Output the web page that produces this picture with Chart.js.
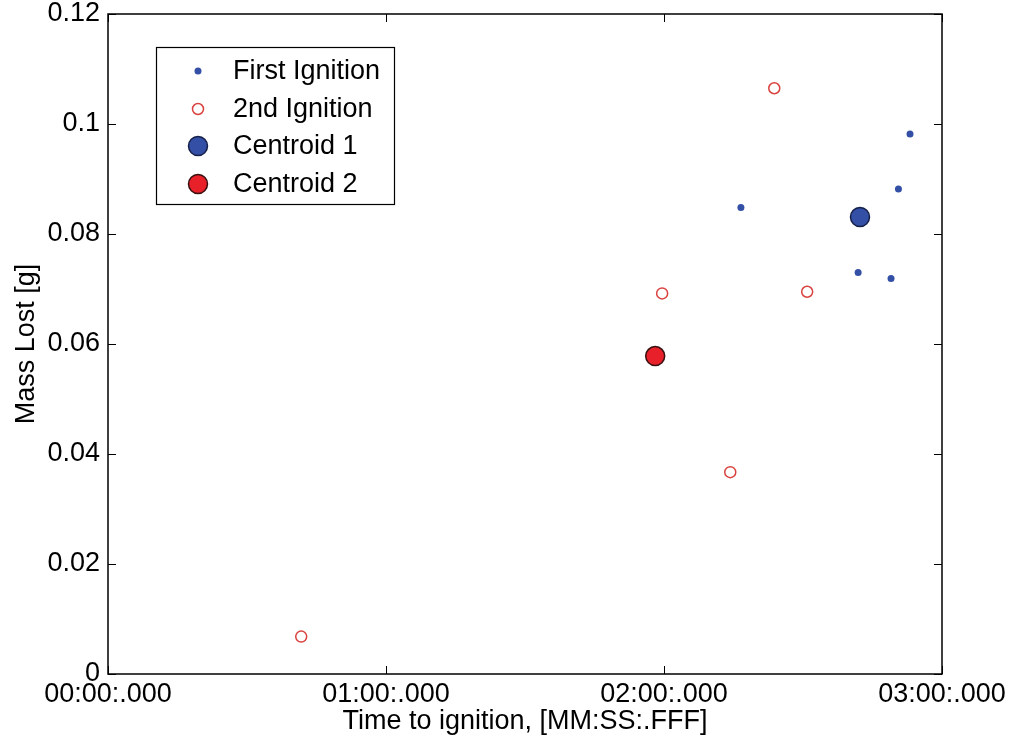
<!DOCTYPE html>
<html>
<head>
<meta charset="utf-8">
<script src="https://cdn.jsdelivr.net/npm/chart.js@4.4.1/dist/chart.umd.min.js"></script>
<style>
html,body{margin:0;padding:0;background:#fff;}
#wrap{width:1011px;height:740px;position:relative;}
</style>
</head>
<body>
<div id="wrap"><canvas id="c" width="1011" height="740"></canvas></div>
<script>
// Data (x in seconds, y in grams)
const firstIgnitionX = [173.1, 170.6, 136.6, 161.9, 169.0];
const firstIgnitionY = [0.0982, 0.0882, 0.0848, 0.0730, 0.0719];
const secondIgnitionX = [143.8, 119.6, 150.9, 41.7, 134.3];
const secondIgnitionY = [0.1065, 0.0692, 0.0695, 0.0068, 0.0367];
const centroid1X = [162.3];
const centroid1Y = [0.0831];
const centroid2X = [118.1];
const centroid2Y = [0.0578];
const xTickValues = [0, 60, 120, 180];
const yTickValues = [0, 0.02, 0.04, 0.06, 0.08, 0.1, 0.12];
const seriesLabels = ['First Ignition', '2nd Ignition', 'Centroid 1', 'Centroid 2'];
const xTitle = 'Time to ignition, [MM:SS:.FFF]';
const yTitle = 'Mass Lost [g]';

const FONT = '"Liberation Sans", Arial, Helvetica, sans-serif';
const FS = 27;
const BLUE = '#3450a6';
const RED_OPEN = '#d9423f';
const RED_FILL = '#e8202a';

function pts(xs, ys){ return xs.map((x,i)=>({x:x, y:ys[i]})); }
function pad2(n){ return String(n).padStart(2,'0'); }
function fmtTime(v){ const m=Math.floor(v/60), s=Math.round(v%60); return pad2(m)+':'+pad2(s)+':.000'; }

const styles = [
  {radius:3.5, bg:BLUE, border:BLUE, bw:0},
  {radius:5.5, bg:'rgba(255,255,255,0)', border:RED_OPEN, bw:1.5},
  {radius:9.5, bg:BLUE, border:'#16204a', bw:1.5},
  {radius:9.5, bg:RED_FILL, border:'#3a1010', bw:1.5}
];

const boxPlugin = {
  id:'boxTicks',
  afterDraw(chart){
    const {ctx, chartArea:a, scales} = chart;
    ctx.save();
    ctx.strokeStyle = '#000';
    ctx.lineWidth = 1;
    const L = 8;
    ctx.beginPath();
    xTickValues.forEach(v=>{
      const px = Math.round(scales.x.getPixelForValue(v))+0.5;
      ctx.moveTo(px, a.bottom); ctx.lineTo(px, a.bottom-L);
      ctx.moveTo(px, a.top); ctx.lineTo(px, a.top+L);
    });
    yTickValues.forEach(v=>{
      const py = Math.round(scales.y.getPixelForValue(v))+0.5;
      ctx.moveTo(a.left, py); ctx.lineTo(a.left+L, py);
      ctx.moveTo(a.right, py); ctx.lineTo(a.right-L, py);
    });
    ctx.stroke();
    ctx.lineWidth = 1.5;
    ctx.strokeRect(a.left, a.top, a.right-a.left, a.bottom-a.top);
    ctx.restore();
  }
};

const legendPlugin = {
  id:'insideLegend',
  afterDatasetsDraw(chart){
    const ctx = chart.ctx;
    const bx=156, by=47, bw=238, bh=157;
    ctx.save();
    ctx.fillStyle='#fff';
    ctx.fillRect(bx,by,bw,bh);
    ctx.strokeStyle='#000'; ctx.lineWidth=1.2;
    ctx.strokeRect(bx+0.5,by+0.5,bw,bh);
    const rows=[71,109,146,184];
    seriesLabels.forEach((lab,i)=>{
      const st=styles[i];
      const cx=198, cy=rows[i];
      ctx.beginPath();
      ctx.arc(cx,cy,st.radius,0,Math.PI*2);
      ctx.fillStyle=st.bg; ctx.fill();
      if(st.bw>0){ ctx.lineWidth=st.bw; ctx.strokeStyle=st.border; ctx.stroke(); }
      ctx.fillStyle='#000';
      ctx.font=FS+'px '+FONT;
      ctx.textBaseline='middle';
      ctx.textAlign='left';
      ctx.fillText(lab, 233, cy+1);
    });
    ctx.restore();
  }
};

const datasets = [
  [firstIgnitionX, firstIgnitionY],
  [secondIgnitionX, secondIgnitionY],
  [centroid1X, centroid1Y],
  [centroid2X, centroid2Y]
].map((d,i)=>({
  label: seriesLabels[i],
  data: pts(d[0], d[1]),
  pointStyle:'circle',
  pointRadius: styles[i].radius,
  backgroundColor: styles[i].bg,
  borderColor: styles[i].border,
  borderWidth: styles[i].bw,
  order: 4-i
}));

new Chart(document.getElementById('c'), {
  type:'scatter',
  data:{datasets},
  options:{
    responsive:false,
    animation:false,
    events:[],
    layout:{padding:{top:14, right:69, left:0, bottom:0}},
    plugins:{legend:{display:false}, tooltip:{enabled:false}},
    scales:{
      x:{
        type:'linear', min:0, max:180,
        afterBuildTicks(s){ s.ticks = xTickValues.map(v=>({value:v})); },
        afterFit(s){ s.height = 66; },
        grid:{display:false, drawTicks:false},
        border:{display:false},
        ticks:{callback:v=>fmtTime(v), color:'#000', font:{family:FONT, size:FS}, padding:4, maxRotation:0, autoSkip:false},
        title:{display:true, text:xTitle, color:'#000', font:{family:FONT, size:FS}, padding:{top:0,bottom:2}}
      },
      y:{
        type:'linear', min:0, max:0.12,
        afterBuildTicks(s){ s.ticks = yTickValues.map(v=>({value:v})); },
        afterFit(s){ s.width = 108; s.paddingTop = 0; s.paddingBottom = 0; },
        grid:{display:false, drawTicks:false},
        border:{display:false},
        ticks:{callback:v=>String(parseFloat(v.toFixed(2))), color:'#000', font:{family:FONT, size:FS}, padding:8, autoSkip:false},
        title:{display:true, text:yTitle, color:'#000', font:{family:FONT, size:FS}, padding:{top:10,bottom:0}}
      }
    }
  },
  plugins:[boxPlugin, legendPlugin]
});
</script>
</body>
</html>
